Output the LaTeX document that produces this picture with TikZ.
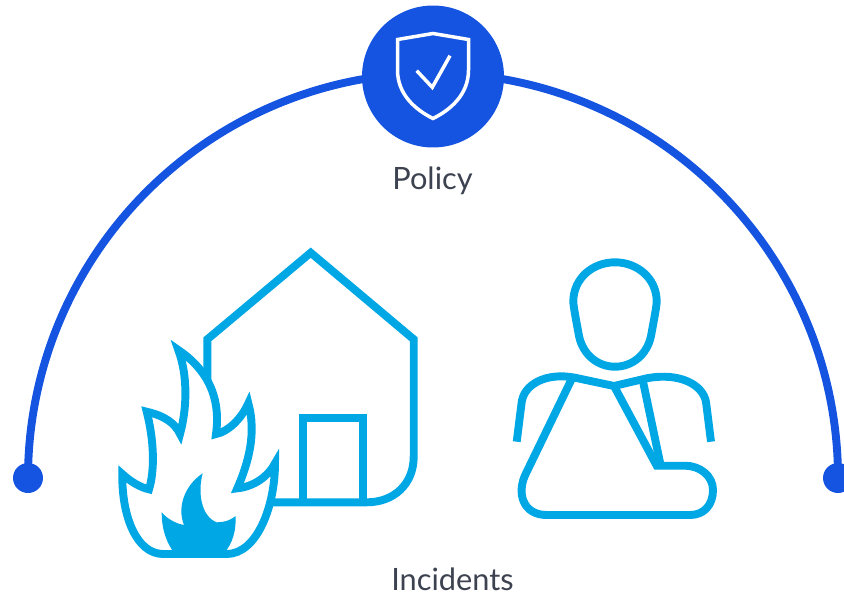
\documentclass[tikz,border=0pt]{standalone}
\usepackage{fontspec}
\setmainfont{Lato}
\definecolor{policyblue}{HTML}{1554E0}
\definecolor{iconcyan}{HTML}{00A7E5}
\definecolor{labelgrey}{HTML}{3D4250}
\tikzset{
   arcline/.style={draw=policyblue, line width=4.5pt},
   icon/.style={draw=iconcyan, line width=4.5pt, miter limit=20},
   endpoint/.style={circle, fill=policyblue, inner sep=0, minimum size=0.6cm},
   badge/.style={circle, fill=policyblue, inner sep=0, minimum size=2.84cm},
   badgeicon/.style={draw=white, line width=2pt},
   caption/.style={text=labelgrey, font=\fontsize{17.5}{20}\selectfont, inner sep=0, anchor=base}
}
\begin{document}
\begin{tikzpicture}[x=0.02cm, y=-0.02cm]
   \clip (0,0) rectangle (844,595);

   % arc
   \node[endpoint] (dotleft) at (28,478) {};
   \node[endpoint] (dotright) at (838,478) {};
   \draw[arcline] (dotleft.center) arc[start angle=-180, end angle=-99.5, radius=405];
   \draw[arcline] (dotright.center) arc[start angle=0, end angle=-80.5, radius=405];

   % policy
   \node[badge] (policy) at (433,76.5) {};
   \draw[badgeicon] (397.5,39.5) -- (433,33.5) -- (468.5,39.5) -- (468.5,70)
      .. controls (468.5,95) and (450,110) .. (433,118.5)
      .. controls (416,110) and (397.5,95) .. (397.5,70) -- cycle;
   \draw[badgeicon] (416.7,70.7) -- (432.3,87.3) -- (450,55.7);
   \node[caption] (policylabel) at (432.5,189.5) {Policy};

   % house
   \draw[icon] (207.3,400) -- (207.3,339.3) -- (310.7,252.7) -- (413.7,339.3) -- (413.7,456.7)
      .. controls (413.7,484) and (394,502.3) .. (366.7,502.3) -- (260,502.3);
   \draw[icon] (303.3,502.3) -- (303.3,418) -- (363.3,418) -- (363.3,502.3);

   % flame
   \draw[icon, fill=white] (163.3,554)
      .. controls (136.7,554) and (121.7,516.7) .. (122.3,474)
      .. controls (130.7,481.7) and (140,487.3) .. (149,489.3)
      .. controls (155,470) and (154,440) .. (146.7,411.7)
      .. controls (165,416) and (175,423.3) .. (180,434)
      .. controls (186.7,410) and (188.3,376.7) .. (178.3,350)
      .. controls (203.3,366.7) and (221.7,393) .. (216,434)
      .. controls (228.3,431.7) and (241.7,418.3) .. (248.3,403.3)
      .. controls (256.7,433.3) and (248.3,463.3) .. (237.3,488.3)
      .. controls (253.3,486.7) and (268.3,476.7) .. (275,463.3)
      .. controls (275,506.7) and (256.7,554) .. (226.7,554) -- cycle;
   \fill[iconcyan] (202.7,473.3)
      .. controls (185,485) and (176.7,506.7) .. (184,525)
      .. controls (175,523.3) and (166.7,518.3) .. (161.7,512.3)
      .. controls (161.7,530) and (166.7,543.3) .. (175,554) -- (223.3,554)
      .. controls (233.3,543.3) and (236,530) .. (235.7,516)
      .. controls (228.3,521.7) and (221.7,522.3) .. (216.7,522.3)
      .. controls (201.7,516.7) and (197.3,493.3) .. (202.7,473.3) -- cycle;

   % person
   \draw[icon] (573.3,301.7) .. controls (573.3,278) and (593,262.3) .. (615,262.3)
      .. controls (637,262.3) and (656.7,278) .. (656.7,301.7)
      .. controls (656.7,306) and (653,325) .. (651,336)
      .. controls (647,355) and (632,366.7) .. (615,366.7)
      .. controls (598,366.7) and (583,355) .. (579,336)
      .. controls (577,325) and (573.3,306) .. (573.3,301.7) -- cycle;
   \draw[icon] (516.7,441.7) -- (521.7,402) .. controls (524,385) and (545,372) .. (575,377.7)
      -- (614,386) -- (646.7,378.3) .. controls (680,372) and (703,385) .. (706,402) -- (711,441.7);
   \draw[icon] (571.7,379) -- (526,473.3) .. controls (516,493) and (523,515) .. (546.7,515)
      -- (690,515) .. controls (704,515) and (713,505) .. (713,490)
      .. controls (713,476) and (700,465.7) .. (685,465.7) -- (656.7,465.7) -- (614,386);
   \draw[icon] (642.7,380) -- (660.7,465.7);

   \node[caption] (incidentslabel) at (452.5,590) {Incidents};
\end{tikzpicture}
\end{document}
